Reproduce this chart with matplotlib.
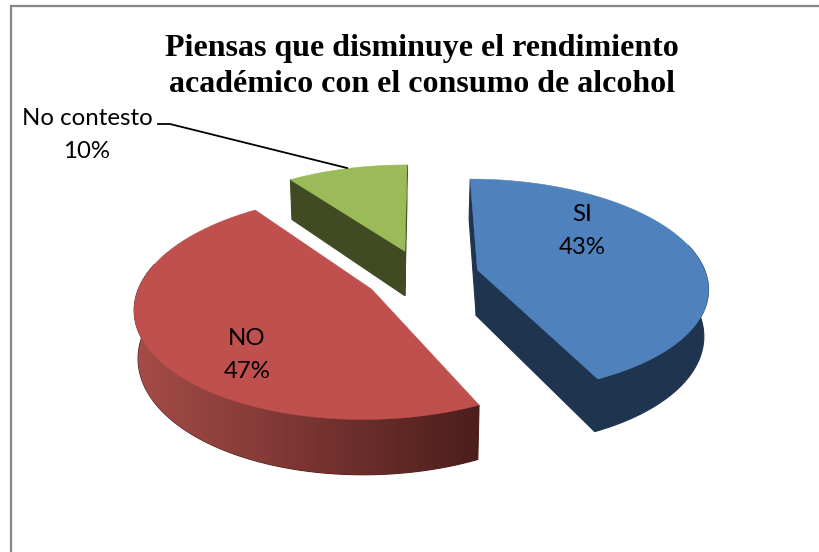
import numpy as np
import matplotlib
matplotlib.use("Agg")
import matplotlib.pyplot as plt
from matplotlib.colors import LinearSegmentedColormap
from matplotlib.patches import Polygon, Rectangle


CATEGORIES = ["SI", "NO", "No contesto"]
VALUES = [43, 47, 10]
TITLE = "Piensas que disminuye el rendimiento\nacadémico con el consumo de alcohol"

TOP_COLORS = ["#4F81BD", "#C0504D", "#9BBB59"]
SIDE_COLORS = ["#1F344F", "#4F1F1C", "#404B23"]
RIM_CMAP = LinearSegmentedColormap.from_list("rim", ["#A64C48", "#4C1E1B"])

# projection of the pie plane onto the picture, in pixels
X0, Y0 = 422, 275.6
RX, RY = 229, 106
PERSP = 0.15
EXPLODE = 0.25
DEPTH = 46
XC = 395
SHRINK = 0.985


def project_top(u, v):
    d = 1 - PERSP * v
    return X0 + RX * u / d, Y0 + RY * v / d


def project_bottom(u, v):
    x, y = project_top(u, v)
    return XC + (x - XC) * SHRINK, y + DEPTH / (1 - PERSP * v)


def face(ax, pts_a, pts_b, color):
    pts = np.vstack([pts_a, pts_b[::-1]])
    return ax.add_patch(Polygon(pts, closed=True, fc=color, ec=color, lw=0.8))


def cross(e, p):
    return e[0] * p[1] - e[1] * p[0]


fig = plt.figure(figsize=(8.2, 5.52), dpi=100)
ax = fig.add_axes([0, 0, 1, 1])
ax.axis("off")

# only the top and left of the chart frame fall inside the picture
ax.add_patch(Rectangle((11, 6), 830, 570, fc="white", ec="#868686", lw=1.6))

shares = np.array(VALUES) / sum(VALUES) * 360
ends = np.cumsum(shares)
starts = ends - shares

# back slice first so nothing wrong ends up on top
for i in [2, 1, 0]:
    a0, a1 = np.radians(starts[i]), np.radians(ends[i])
    mid = (a0 + a1) / 2
    cu, cv = EXPLODE * np.sin(mid), -EXPLODE * np.cos(mid)
    th = np.linspace(a0, a1, 160)
    u = cu + np.sin(th)
    v = cv - np.cos(th)
    top = np.column_stack(project_top(u, v))
    apex = np.array(project_top(cu, cv))

    # cut faces, only the ones turned towards the viewer
    for edge in [a0, a1]:
        eu = np.array([cu, cu + np.sin(edge)])
        ev = np.array([cv, cv - np.cos(edge)])
        upper = np.column_stack(project_top(eu, ev))
        lower = np.column_stack(project_bottom(eu, ev))
        e = upper[1] - upper[0]
        inner = top[len(top) // 2] - upper.mean(axis=0)
        drop = lower.mean(axis=0) - upper.mean(axis=0)
        if cross(e, inner) * cross(e, drop) < 0:
            face(ax, upper, lower, SIDE_COLORS[i])

    # outer rim, the back part of it stays hidden under the top
    front = -np.cos(th) > -0.25
    if front.any():
        rim_top = np.column_stack(project_top(u[front], v[front]))
        rim_bottom = np.column_stack(project_bottom(u[front], v[front]))
        rim = face(ax, rim_top, rim_bottom, SIDE_COLORS[i])
        if CATEGORIES[i] == "NO":
            xs = np.vstack([rim_top, rim_bottom])
            extent = [xs[:, 0].min(), xs[:, 0].max(), xs[:, 1].max(), xs[:, 1].min()]
            im = ax.imshow(np.linspace(0, 1, 256)[None, :], cmap=RIM_CMAP, extent=extent,
                           aspect="auto", zorder=1)
            im.set_clip_path(rim)

    ax.add_patch(Polygon(np.vstack([apex, top]), closed=True, fc=TOP_COLORS[i],
                         ec=TOP_COLORS[i], lw=0.4, zorder=1))

ax.set_xlim(0, 820)
ax.set_ylim(552, 0)

ax.text(422, 66.5, TITLE, ha="center", va="center", fontsize=23, fontweight="bold",
        family="Liberation Serif", color="black", linespacing=1.36)

label_font = dict(ha="center", va="center", fontsize=17.3, family="Lato", color="black",
                  linespacing=1.72)
for name, val, pos in zip(CATEGORIES, VALUES, [(582, 231), (247, 355), (87, 135)]):
    ax.text(pos[0], pos[1], f"{name}\n{val}%", **label_font)

ax.plot([158, 170, 347], [124, 124, 168], color="black", lw=1.3)

fig.savefig("out.png", dpi=100)
